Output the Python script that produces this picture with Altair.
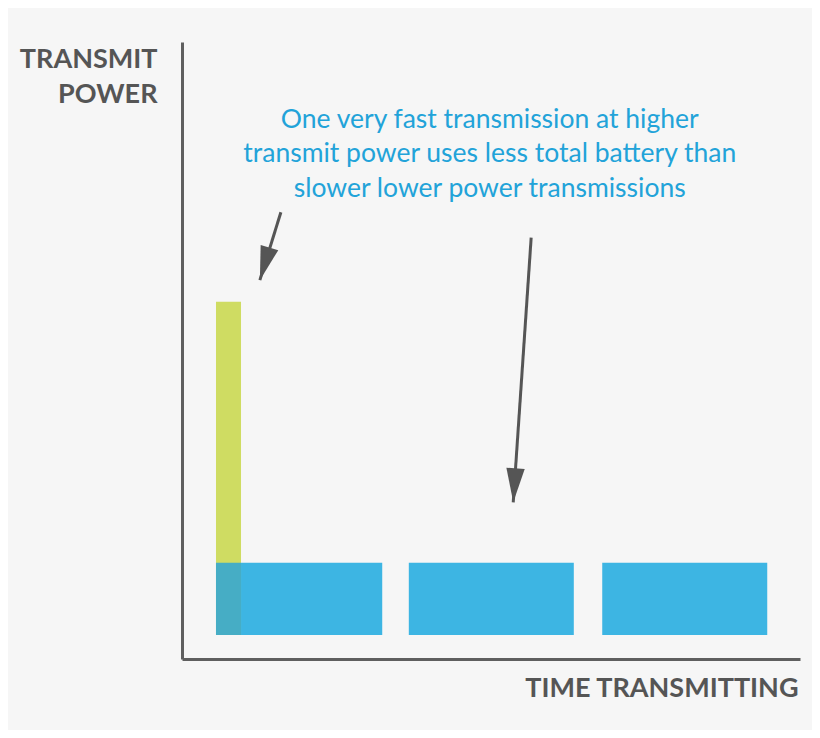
import altair as alt
import pandas as pd

BG = "#f6f6f6"

# --- data (arbitrary units, 0-100 on both axes) ---
blue_start = [5.5, 36.7, 68.0]
blue_end = [32.4, 63.4, 94.7]
blue_base = 3.9
blue_top = 15.6

green_start = 5.5
green_end = 9.55
green_top = 57.9

arrow_x0 = [16.0, 56.5]
arrow_y0 = [72.4, 68.3]
arrow_x1 = [12.6, 53.6]
arrow_y1 = [61.4, 25.4]
arrow_angle = [16.4, 3.9]

note_lines = [
    "One very fast transmission at higher",
    "transmit power uses less total battery than",
    "slower lower power transmissions",
]
note_x = 49.8
note_y = 86.1

x_title = "TIME TRANSMITTING"
y_title = ["TRANSMIT", "POWER"]

# --- tables ---
blue_df = pd.DataFrame({
    "x0": blue_start, "x1": blue_end,
    "y0": [blue_base] * len(blue_start), "y1": [blue_top] * len(blue_start),
})
green_df = pd.DataFrame({"x0": [green_start], "x1": [green_end],
                         "y0": [blue_base], "y1": [green_top]})
overlap_df = pd.DataFrame({"x0": [max(green_start, blue_start[0])],
                           "x1": [min(green_end, blue_end[0])],
                           "y0": [blue_base], "y1": [min(green_top, blue_top)]})
arrow_df = pd.DataFrame({"x0": arrow_x0, "y0": arrow_y0, "x1": arrow_x1,
                         "y1": arrow_y1, "angle": arrow_angle})
note_df = pd.DataFrame({"x": [note_x], "y": [note_y], "t": ["\n".join(note_lines)]})

xs = alt.Scale(domain=[0, 100], nice=False, zero=False)
ys = alt.Scale(domain=[0, 100], nice=False, zero=False)

AX_COLOR = "#5f5f5f"
TITLE_COLOR = "#555555"

x_axis = alt.Axis(
    title=x_title, labels=False, ticks=False, grid=False,
    domainColor=AX_COLOR, domainWidth=3,
    titleX=616, titleY=37, titleAlign="right", titleBaseline="alphabetic",
    titleFont="Lato", titleFontWeight="bold", titleFontSize=27, titleColor=TITLE_COLOR,
)
y_axis = alt.Axis(
    title=y_title, labels=False, ticks=False, grid=False,
    domainColor=AX_COLOR, domainWidth=3,
    titleX=-25, titleY=25, titleAngle=0, titleAlign="right", titleBaseline="alphabetic",
    titleLineHeight=35,
    titleFont="Lato", titleFontWeight="bold", titleFontSize=27, titleColor=TITLE_COLOR,
)

blue = alt.Chart(blue_df).mark_rect(color="#3db5e3").encode(
    x=alt.X("x0:Q", scale=xs, axis=x_axis), x2="x1:Q",
    y=alt.Y("y0:Q", scale=ys, axis=y_axis), y2="y1:Q",
)
green = alt.Chart(green_df).mark_rect(color="#cfdc62").encode(
    x=alt.X("x0:Q", scale=xs), x2="x1:Q",
    y=alt.Y("y0:Q", scale=ys), y2="y1:Q",
)
overlap = alt.Chart(overlap_df).mark_rect(color="#46adc5").encode(
    x=alt.X("x0:Q", scale=xs), x2="x1:Q",
    y=alt.Y("y0:Q", scale=ys), y2="y1:Q",
)
shafts = alt.Chart(arrow_df).mark_rule(color="#555555", strokeWidth=3).encode(
    x=alt.X("x0:Q", scale=xs), x2="x1:Q",
    y=alt.Y("y0:Q", scale=ys), y2="y1:Q",
)
heads = alt.Chart(arrow_df).mark_point(
    shape="M0,0L-0.27,-1L0.27,-1Z", filled=True, opacity=1, size=4624,
    color="#555555", strokeWidth=0,
).encode(
    x=alt.X("x1:Q", scale=xs), y=alt.Y("y1:Q", scale=ys),
    angle=alt.Angle("angle:Q", scale=None),
)
note = alt.Chart(note_df).mark_text(
    align="center", baseline="alphabetic", lineBreak="\n", lineHeight=34.5,
    font="Lato", fontSize=26.5, color="#22a3d9",
).encode(
    x=alt.X("x:Q", scale=xs), y=alt.Y("y:Q", scale=ys), text="t:N",
)

chart = alt.layer(blue, green, overlap, shafts, heads, note).properties(
    width=618, height=617,
    autosize=alt.AutoSizeParams(type="none"),
    padding={"left": 174, "top": 34, "right": 12, "bottom": 71},
    background=BG,
).configure_view(stroke=None)

chart.save("out.html", embed_options={"renderer": "svg", "actions": False})
